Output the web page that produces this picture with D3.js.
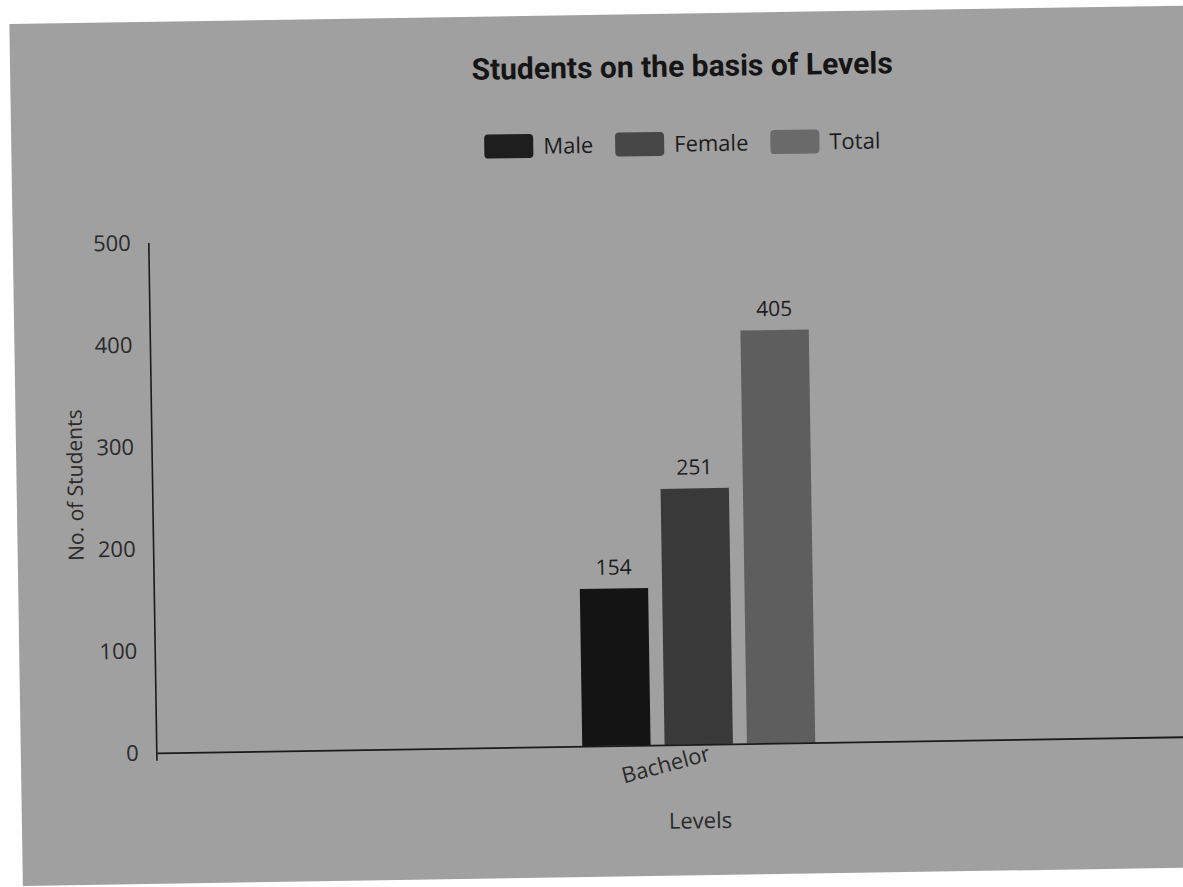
<!DOCTYPE html>
<html>
<head>
<meta charset="utf-8">
<script src="https://cdn.jsdelivr.net/npm/d3@7"></script>
<style>
  html, body { margin: 0; padding: 0; background: #ffffff; }
  svg { display: block; }
</style>
</head>
<body>
<svg id="chart" width="1183" height="887"></svg>
<script>
// ---- data ----
const categories = ["Bachelor"];
const seriesNames = ["Male", "Female", "Total"];
const maleValues = [154];
const femaleValues = [251];
const totalValues = [405];
const yTickValues = [0, 100, 200, 300, 400, 500];
const titleText = "Students on the basis of Levels";
const xAxisTitle = "Levels";
const yAxisTitle = "No. of Students";

const seriesValues = { Male: maleValues, Female: femaleValues, Total: totalValues };
const barColors = { Male: "#141414", Female: "#393939", Total: "#5e5e5e" };
const swatchColors = { Male: "#1e1e1e", Female: "#474747", Total: "#6a6a6a" };

const svg = d3.select("#chart");
const page = svg.append("g").attr("transform", "rotate(-0.9, 591, 443)");

// scanned page background
page.append("rect")
  .attr("x", 16).attr("y", 15)
  .attr("width", 1230).attr("height", 862)
  .attr("fill", "#a0a0a0");

const plot = { left: 152, right: 1237, top: 236, bottom: 746 };

const x = d3.scaleBand().domain(categories).range([plot.left, plot.right]);
const xInner = d3.scaleBand().domain(seriesNames).range([0, 233]).paddingInner(0.17);
const y = d3.scaleLinear().domain([0, 500]).range([plot.bottom, plot.top]);

// bars
const rows = [];
categories.forEach((c, i) => {
  seriesNames.forEach(s => rows.push({ cat: c, series: s, value: seriesValues[s][i] }));
});
const barX = d => x(d.cat) + x.bandwidth() / 2 - 117 + xInner(d.series);

page.selectAll("rect.bar").data(rows).join("rect")
  .attr("class", "bar")
  .attr("x", barX)
  .attr("y", d => y(d.value))
  .attr("width", xInner.bandwidth())
  .attr("height", d => y(0) - y(d.value))
  .attr("fill", d => barColors[d.series]);

page.selectAll("text.val").data(rows).join("text")
  .attr("class", "val")
  .attr("x", d => barX(d) + xInner.bandwidth() / 2)
  .attr("y", d => y(d.value) - 14)
  .attr("text-anchor", "middle")
  .attr("font-family", "'Open Sans', sans-serif")
  .attr("font-size", 21)
  .attr("fill", "#1c1c1c")
  .text(d => d.value);

// y axis
const yAxis = d3.axisLeft(y).tickValues(yTickValues).tickSize(0).tickPadding(18);
const gy = page.append("g").attr("transform", `translate(${plot.left},0)`).call(yAxis);
gy.select(".domain").remove();
gy.selectAll("text")
  .attr("font-family", "'Open Sans', sans-serif")
  .attr("font-size", 22)
  .attr("fill", "#2a2a2a");
page.append("line")
  .attr("x1", plot.left).attr("x2", plot.left)
  .attr("y1", y(500)).attr("y2", y(0) + 8)
  .attr("stroke", "#1a1a1a").attr("stroke-width", 1.6);

// x axis
const xAxis = d3.axisBottom(x).tickSize(0).tickPadding(0);
const gx = page.append("g").attr("transform", `translate(0,${plot.bottom})`).call(xAxis);
gx.select(".domain").attr("stroke", "#1a1a1a").attr("stroke-width", 1.8);
gx.selectAll(".tick text")
  .attr("font-family", "'Open Sans', sans-serif")
  .attr("font-size", 22)
  .attr("fill", "#2a2a2a")
  .attr("text-anchor", "end")
  .attr("dy", 0)
  .attr("transform", "translate(12,16) rotate(-14)");

// axis titles
page.append("text")
  .attr("x", x(categories[0]) + x.bandwidth() / 2)
  .attr("y", 830)
  .attr("text-anchor", "middle")
  .attr("font-family", "'Open Sans', sans-serif")
  .attr("font-size", 22)
  .attr("fill", "#2a2a2a")
  .text(xAxisTitle);

page.append("text")
  .attr("transform", `translate(82,${(plot.top + plot.bottom) / 2 - 14}) rotate(-90)`)
  .attr("text-anchor", "middle")
  .attr("font-family", "'Open Sans', sans-serif")
  .attr("font-size", 21)
  .attr("fill", "#2a2a2a")
  .text(yAxisTitle);

// title
page.append("text")
  .attr("x", 688).attr("y", 78)
  .attr("text-anchor", "middle")
  .attr("font-family", "Roboto, sans-serif")
  .attr("font-weight", "bold")
  .attr("font-size", 30)
  .attr("fill", "#151515")
  .text(titleText);

// legend
const legend = page.append("g");
let cursor = 0;
seriesNames.forEach(s => {
  const item = legend.append("g").attr("transform", `translate(${cursor},0)`);
  item.append("rect")
    .attr("x", 0).attr("y", 0).attr("width", 49).attr("height", 24)
    .attr("rx", 4).attr("fill", swatchColors[s]);
  const t = item.append("text")
    .attr("x", 59).attr("y", 20)
    .attr("font-family", "'Open Sans', sans-serif")
    .attr("font-size", 22)
    .attr("fill", "#1c1c1c")
    .text(s);
  cursor += 59 + t.node().getComputedTextLength() + 22;
});
const legendWidth = cursor - 22;
legend.attr("transform", `translate(${687 - legendWidth / 2},133)`);
</script>
</body>
</html>
